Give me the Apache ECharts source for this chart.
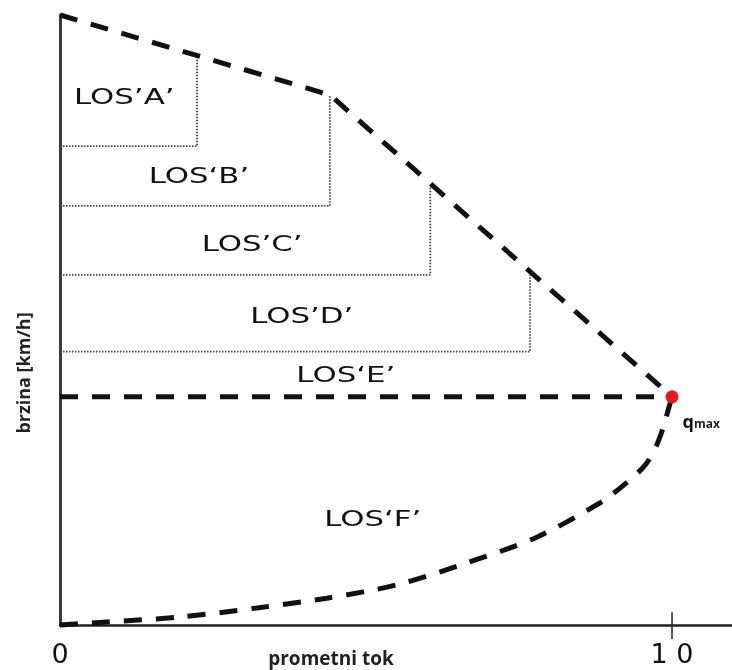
<!DOCTYPE html>
<html>
<head>
<meta charset="utf-8">
<title>LOS</title>
<script src="https://cdn.jsdelivr.net/npm/echarts@6/dist/echarts.min.js"></script>
<style>
  html, body { margin: 0; padding: 0; background: #fff; }
  #main { width: 732px; height: 670px; }
</style>
</head>
<body>
<div id="main"></div>
<script>
  // x: prometni tok (0..1 = q/qmax), y: brzina (0..100, relativno)
  const xTickValues = [0, 1];
  const xTickLabels = ['0', '1 0'];

  // gornja krivulja brzina-tok (isprekidano)
  const upperCurve = [[0, 100], [0.441, 86.9], [1.0, 37.4]];
  // donja grana (zagušenje, LOS F)
  const lowerCurve = [
    [0, 0], [0.077, 0.5], [0.196, 1.3], [0.322, 2.8], [0.436, 4.4],
    [0.551, 6.6], [0.665, 10.2], [0.779, 14.4], [0.882, 20.0],
    [0.923, 23.1], [0.956, 26.2], [0.975, 29.5], [0.987, 32.8],
    [0.995, 35.7], [1.0, 37.4]
  ];

  // granice razina usluge (točkasto)
  const losBoundX = [0.224, 0.441, 0.605, 0.768];
  const losBoundY = [78.5, 68.7, 57.4, 44.8];
  const losTopY = [93.4, 86.9, 72.4, 57.9];

  // kapacitet
  const qmax = [1.0, 37.4];

  const losNames = ['LOS’A’', 'LOS‘B’', 'LOS’C’', 'LOS’D’', 'LOS‘E’', 'LOS‘F’'];
  const losLabelX = [0.105, 0.227, 0.314, 0.395, 0.467, 0.511];
  const losLabelY = [86.4, 73.4, 62.3, 50.5, 40.7, 17.2];

  const chart = echarts.init(document.getElementById('main'));

  const dashed = { color: '#111', width: 5, type: [18, 14], cap: 'butt' };
  const dotted = { color: '#444', width: 1.8, type: [1.5, 1.5] };

  const series = [];

  // točkaste stepenice
  losBoundX.forEach(function (bx, i) {
    series.push({
      type: 'line',
      data: [[0, losBoundY[i]], [bx, losBoundY[i]], [bx, losTopY[i]]],
      symbol: 'none',
      lineStyle: dotted,
      clip: false,
      z: 1
    });
  });

  series.push({
    type: 'line',
    data: upperCurve,
    symbol: 'none',
    lineStyle: dashed,
    clip: false,
    z: 3
  });
  series.push({
    type: 'line',
    data: [[0, qmax[1]], qmax],
    symbol: 'none',
    lineStyle: dashed,
    clip: false,
    z: 3
  });
  series.push({
    type: 'line',
    data: lowerCurve,
    smooth: 0.3,
    symbol: 'none',
    lineStyle: dashed,
    clip: false,
    z: 3
  });
  // gornji dio crtice na 1.0
  series.push({
    type: 'line',
    data: [[1, 0], [1, 2.1]],
    symbol: 'none',
    lineStyle: { color: '#222', width: 1.5 },
    clip: false,
    z: 2
  });
  series.push({
    type: 'scatter',
    data: [qmax],
    symbolSize: 13,
    itemStyle: { color: '#e8181f', opacity: 1 },
    label: {
      show: true,
      position: 'right',
      distance: 4,
      offset: [0, 26],
      formatter: '{q|q}{m|max}',
      rich: {
        q: { fontFamily: 'Open Sans', fontWeight: 'bold', fontSize: 18, color: '#111' },
        m: { fontFamily: 'Open Sans', fontWeight: 'bold', fontSize: 12, color: '#222', padding: [3, 0, 0, 0] }
      }
    },
    z: 5
  });

  chart.setOption({
    animation: false,
    backgroundColor: '#fff',
    grid: { left: 60, right: 0, top: 15, bottom: 45 },
    xAxis: {
      type: 'value',
      min: 0,
      max: 1.098,
      splitLine: { show: false },
      axisLine: { lineStyle: { color: '#222', width: 2.5 } },
      axisTick: {
        show: true,
        customValues: [1],
        length: 14,
        lineStyle: { color: '#222', width: 1.5 }
      },
      axisLabel: {
        customValues: xTickValues,
        formatter: function (v) {
          return xTickLabels[xTickValues.indexOf(v)];
        },
        fontFamily: 'DejaVu Sans',
        fontSize: 27,
        color: '#111',
        margin: 17
      }
    },
    yAxis: {
      type: 'value',
      min: 0,
      max: 100,
      splitLine: { show: false },
      axisTick: { show: false },
      axisLabel: { show: false },
      axisLine: { lineStyle: { color: '#3a3a3a', width: 3 } }
    },
    series: series
  });

  const graphics = losNames.map(function (name, i) {
    const p = chart.convertToPixel({ gridIndex: 0 }, [losLabelX[i], losLabelY[i]]);
    return {
      type: 'text',
      x: p[0],
      y: p[1],
      scaleX: 1.4,
      z: 10,
      style: {
        text: name,
        font: '22px "DejaVu Sans"',
        fill: '#111',
        textAlign: 'center',
        textVerticalAlign: 'middle'
      }
    };
  });
  graphics.push({
    type: 'text',
    x: 25,
    y: 373,
    rotation: Math.PI / 2,
    style: {
      text: 'brzina [km/h]',
      font: 'bold 18px "Open Sans"',
      fill: '#222',
      textAlign: 'center',
      textVerticalAlign: 'middle'
    }
  });
  graphics.push({
    type: 'text',
    x: 331,
    y: 660,
    style: {
      text: 'prometni tok',
      font: 'bold 19px "Open Sans"',
      fill: '#222',
      textAlign: 'center',
      textVerticalAlign: 'middle'
    }
  });
  chart.setOption({ graphic: graphics });
</script>
</body>
</html>
